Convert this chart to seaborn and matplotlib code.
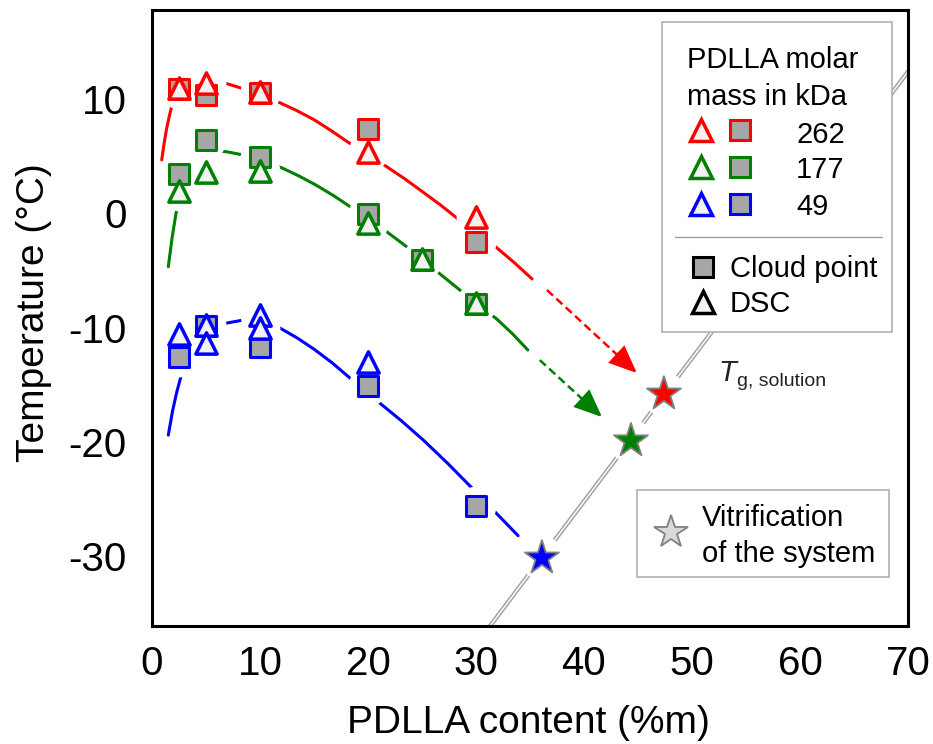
import matplotlib
matplotlib.use("Agg")
import matplotlib.pyplot as plt
import seaborn as sns
from matplotlib.lines import Line2D
from matplotlib.patches import Rectangle

# ---------------- data ----------------
content_262 = [2.5, 5, 10, 20, 30]
cloud_262 = [10.9, 10.4, 10.5, 7.4, -2.5]
dsc_262_x = [2.5, 5, 10, 20, 30]
dsc_262 = [11.0, 11.4, 10.6, 5.4, -0.3]

content_177 = [2.5, 5, 10, 20, 25, 30]
cloud_177 = [3.45, 6.4, 4.9, -0.05, -4.05, -7.9]
dsc_177_x = [2.5, 5, 10, 20, 25, 30]
dsc_177 = [2.0, 3.6, 3.75, -0.8, -4.0, -7.85]

content_49 = [2.5, 5, 10, 20, 30]
cloud_49 = [-12.6, -9.85, -11.65, -15.1, -25.6]
dsc_49_x = [2.5, 5, 5, 10, 10, 20]
dsc_49 = [-10.55, -9.8, -11.35, -8.9, -10.05, -13.0]

# fitted guide curves
fit_262_x = [0.9, 1.1, 1.35, 1.6, 1.82, 2.3, 3.0, 4.0, 5.5, 6.94, 8.15, 10.0, 11.85, 13.4, 15.0, 16.5,
             18.8, 21.76, 23.4, 25.0, 26.7, 28.33, 30.1, 31.94, 33.6, 35.19]
fit_262_y = [4.68, 6.0, 7.4, 8.5, 9.35, 10.3, 11.0, 11.5, 11.6, 11.35, 11.0, 10.4, 9.68, 9.0, 8.2, 7.3,
             5.82, 4.07, 3.03, 1.93, 0.75, -0.48, -1.72, -3.02, -4.35, -5.73]
fit_177_x = [1.51, 1.85, 2.22, 3.0, 4.0, 5.0, 6.0, 6.94, 8.43, 10.0, 12.04, 13.64, 15.24, 16.84, 18.52,
             21.76, 23.6, 26.67, 28.7, 30.3, 31.94, 33.4, 34.8]
fit_177_y = [-4.66, -2.2, 0.0, 2.6, 4.3, 5.2, 5.5, 5.39, 5.12, 4.65, 3.98, 3.26, 2.45, 1.54, 0.48,
             -1.62, -2.93, -5.3, -6.85, -8.05, -9.25, -10.55, -11.95]
fit_49_x = [1.51, 1.9, 2.3, 2.66, 3.5, 4.5, 5.5, 6.94, 8.33, 9.5, 11.85, 13.45, 15.05, 16.65, 18.33,
            21.1, 23.1, 25.12, 27.36, 29.6, 31.6, 33.9]
fit_49_y = [-19.4, -17.3, -15.6, -14.34, -12.3, -10.9, -10.1, -9.59, -9.35, -9.45, -10.03, -10.9, -11.91,
            -13.05, -14.4, -16.6, -18.15, -19.83, -21.85, -24.0, -25.96, -28.2]

# extrapolation arrows (start -> tip)
arrow_262 = [(36.57, -6.7), (44.9, -13.97)]
arrow_177 = [(35.9, -12.83), (41.67, -17.82)]

# vitrification points (stars)
star_x = [47.4, 44.35, 36.1]
star_y = [-15.8, -19.9, -30.15]

# Tg,solution line
tg_x = [31.3, 70.0]
tg_y = [-36.1, 12.4]

mass_labels = ["262", "177", "49"]
colors = ["#ff0000", "#008000", "#0000ff"]

SQ_FACE = "#a6a6a6"
TRI_FACE = "#f2f2f2"

# ---------------- style ----------------
sns.set_theme(style="white")
plt.rcParams["font.family"] = ["Liberation Sans", "DejaVu Sans"]
plt.rcParams["text.color"] = "black"
plt.rcParams["axes.labelcolor"] = "black"
plt.rcParams["axes.unicode_minus"] = False

W, H = 933, 744
fig = plt.figure(figsize=(W / 100, H / 100), dpi=100)
ax = fig.add_axes([152 / W, 118 / H, 756 / W, 616 / H])

def P(x, y):
    return (x / W, 1 - y / H)

# Tg line (double line look)
sns.lineplot(x=tg_x, y=tg_y, ax=ax, color="#a0a0a0", lw=3.2, zorder=1, sort=False, estimator=None)
sns.lineplot(x=tg_x, y=tg_y, ax=ax, color="#f4f4f4", lw=1.2, zorder=1.1, sort=False, estimator=None)

# fit curves
for fx, fy, c in [(fit_262_x, fit_262_y, colors[0]),
                  (fit_177_x, fit_177_y, colors[1]),
                  (fit_49_x, fit_49_y, colors[2])]:
    sns.lineplot(x=fx, y=fy, ax=ax, color=c, lw=2.2, zorder=2, sort=False, estimator=None)

# dashed arrows: dashed shaft + solid filled head
for (s, t), c in [(arrow_262, colors[0]), (arrow_177, colors[1])]:
    fx = 0.9
    mid = (s[0] + fx * (t[0] - s[0]), s[1] + fx * (t[1] - s[1]))
    sns.lineplot(x=[s[0], mid[0]], y=[s[1], mid[1]], ax=ax, color=c, lw=1.8,
                 dashes=False, linestyle=(0, (3.3, 1.8)), zorder=2, sort=False, estimator=None)
    ax.annotate("", xy=t, xytext=mid,
                arrowprops=dict(arrowstyle="-|>,head_length=0.85,head_width=0.36",
                                color=c, lw=1.8, shrinkA=0, shrinkB=0,
                                mutation_scale=20, joinstyle="miter"),
                zorder=2)

# white halos around markers (gaps in lines)
all_x = content_262 + dsc_262_x + content_177 + dsc_177_x + content_49 + dsc_49_x
all_y = cloud_262 + dsc_262 + cloud_177 + dsc_177 + cloud_49 + dsc_49
sns.scatterplot(x=all_x, y=all_y, ax=ax, marker="o", s=820, color="white",
                linewidth=0, zorder=3, legend=False)
sns.scatterplot(x=star_x, y=star_y, ax=ax, marker="o", s=1000, color="white",
                linewidth=0, zorder=3, legend=False)

# data markers
series = [(content_262, cloud_262, dsc_262_x, dsc_262, colors[0]),
          (content_177, cloud_177, dsc_177_x, dsc_177, colors[1]),
          (content_49, cloud_49, dsc_49_x, dsc_49, colors[2])]
for cx, cy, dx, dy, c in series:
    sns.scatterplot(x=cx, y=cy, ax=ax, marker="s", s=195, color=SQ_FACE,
                    edgecolor=c, linewidth=2.2, zorder=4, legend=False)
for cx, cy, dx, dy, c in series:
    sns.scatterplot(x=dx, y=dy, ax=ax, marker="^", s=235, color=TRI_FACE,
                    edgecolor=c, linewidth=2.5, zorder=4.5, legend=False)

# stars
sns.scatterplot(x=star_x, y=star_y, ax=ax, marker="*", hue=mass_labels,
                palette=colors, s=660, edgecolor="#808080", linewidth=1.3,
                zorder=5, legend=False)

# axes
ax.set_xlim(0, 70)
ax.set_ylim(-36.1, 17.8)
ax.set_xticks(range(0, 71, 10))
ax.set_yticks([-30, -20, -10, 0, 10])
ax.tick_params(axis="both", direction="in", length=10.8, width=1.5,
               labelsize=29, color="black", labelcolor="black")
ax.tick_params(axis="y", pad=18)
ax.tick_params(axis="x", pad=14)
for sp in ax.spines.values():
    sp.set_color("black")
    sp.set_linewidth(2.2)
ax.set_xlabel("")
ax.set_ylabel("")
ax.grid(False)

fig.text(*P(528, 733), "PDLLA content (%m)", ha="center", va="baseline", fontsize=28)
fig.text(*P(34, 313), "Temperature (°C)", ha="center", va="center", rotation=90, fontsize=28)

# Tg label
fig.text(*P(718, 380.7), "T", fontsize=21, style="italic", ha="left", va="baseline", color="#222222")
fig.text(*P(737, 386), "g, solution", fontsize=14, ha="left", va="baseline", color="#222222")

# ---------------- legend 1 ----------------
x0, y0, x1, y1 = 662, 21.7, 892.3, 332.3
fig.add_artist(Rectangle(P(x0, y1), (x1 - x0) / W, (y1 - y0) / H, transform=fig.transFigure,
                         facecolor="white", edgecolor="#b0b0b0", lw=1.2, zorder=1))
fig.text(*P(687, 68.3), "PDLLA molar", fontsize=21, ha="left", va="baseline", zorder=3)
fig.text(*P(687, 105), "mass in kDa", fontsize=21, ha="left", va="baseline", zorder=3)
row_y = [130, 167, 204.3]
row_base = [143.3, 178.3, 215]
for lab, c, yy, yb in zip(mass_labels, colors, row_y, row_base):
    fig.add_artist(Line2D([700.7 / W], [1 - yy / H], transform=fig.transFigure, marker="^",
                          ms=15.2, mfc=TRI_FACE, mec=c, mew=2.5, ls="none", zorder=2))
    fig.add_artist(Line2D([740 / W], [1 - yy / H], transform=fig.transFigure, marker="s",
                          ms=13.9, mfc=SQ_FACE, mec=c, mew=2.2, ls="none", zorder=2))
    fig.text(*P(796, yb), lab, fontsize=21, ha="left", va="baseline", zorder=3)
fig.add_artist(Line2D([675 / W, 881.7 / W], [1 - 236.7 / H] * 2, transform=fig.transFigure,
                      color="#a0a0a0", lw=1.0, zorder=2))
fig.add_artist(Line2D([702.5 / W], [1 - 266.7 / H], transform=fig.transFigure, marker="s",
                      ms=13.9, mfc=SQ_FACE, mec="black", mew=2.2, ls="none", zorder=2))
fig.add_artist(Line2D([703 / W], [1 - 302.3 / H], transform=fig.transFigure, marker="^",
                      ms=15.2, mfc=TRI_FACE, mec="black", mew=2.5, ls="none", zorder=2))
fig.text(*P(730, 276.7), "Cloud point", fontsize=21, ha="left", va="baseline", zorder=3)
fig.text(*P(730, 311.7), "DSC", fontsize=21, ha="left", va="baseline", zorder=3)

# ---------------- legend 2 ----------------
x0, y0, x1, y1 = 636.7, 490, 889.3, 576.7
fig.add_artist(Rectangle(P(x0, y1), (x1 - x0) / W, (y1 - y0) / H, transform=fig.transFigure,
                         facecolor="white", edgecolor="#b0b0b0", lw=1.2, zorder=1))
fig.add_artist(Line2D([670.7 / W], [1 - 531.7 / H], transform=fig.transFigure, marker="*",
                      ms=25, mfc="#d9d9d9", mec="#808080", mew=1.3, ls="none", zorder=2))
fig.text(*P(701.7, 526), "Vitrification", fontsize=21, ha="left", va="baseline", zorder=3)
fig.text(*P(701.7, 561.7), "of the system", fontsize=21, ha="left", va="baseline", zorder=3)

fig.savefig("out.png", dpi=100)
